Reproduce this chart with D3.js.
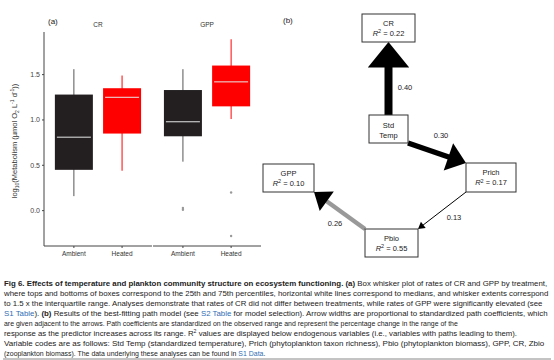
<!DOCTYPE html>
<html>
  <head>
    <meta charset="utf-8">
    <title>Fig 6. Temperature, plankton and ecosystem functioning</title>
    <script src="https://d3js.org/d3.v7.min.js"></script>
    <style type="text/css">
      body {
        margin: 0;
        background: #fff;
        font-family: "Liberation Sans", Arial, sans-serif;
      }
    </style>
  </head>
  <body>
    <svg width="554" height="360"></svg>
    <script>
      // ---- panel (a): box summaries [lower whisker, q1, median, q3, upper whisker]
      const groups = ['CR', 'GPP'];
      const treatments = ['Ambient', 'Heated'];
      const crAmbient = [0.16, 0.45, 0.81, 1.28, 1.56];
      const crHeated = [0.44, 0.85, 1.25, 1.35, 1.49];
      const gppAmbient = [0.54, 0.82, 0.98, 1.33, 1.56];
      const gppHeated = [1.01, 1.15, 1.42, 1.60, 1.89];
      const crAmbientOutliers = [];
      const crHeatedOutliers = [];
      const gppAmbientOutliers = [0.03, 0.01];
      const gppHeatedOutliers = [0.20, -0.28];
      const yTicks = [0, 0.5, 1.0, 1.5];

      // ---- panel (b): path model
      const nodeNames = ['CR', 'Std Temp', 'Prich', 'Pbio', 'GPP'];
      const nodeR2 = [0.22, null, 0.17, 0.55, 0.10];
      const pathFrom = ['Std Temp', 'Std Temp', 'Prich', 'Pbio'];
      const pathTo = ['CR', 'Prich', 'Pbio', 'GPP'];
      const pathCoef = [0.40, 0.30, 0.13, 0.26];

      const boxes = [
        { group: 'CR', trt: 'Ambient', s: crAmbient, out: crAmbientOutliers },
        { group: 'CR', trt: 'Heated', s: crHeated, out: crHeatedOutliers },
        { group: 'GPP', trt: 'Ambient', s: gppAmbient, out: gppAmbientOutliers },
        { group: 'GPP', trt: 'Heated', s: gppHeated, out: gppHeatedOutliers }
      ];

      const svg = d3.select('svg');
      const fill = { Ambient: '#231f20', Heated: '#ff0000' };
      const whisk = { Ambient: '#555', Heated: '#ff0000' };

      // scales
      const y = d3.scaleLinear().domain([-0.39, 1.97]).range([246, 32]);
      const xGroup = d3.scaleBand().domain(groups).range([44, 261]).paddingInner(0.01);
      const xTrt = d3.scalePoint().domain(treatments)
        .range([0, xGroup.bandwidth()]).padding(0.62);
      const boxW = 38;
      const cx = d => xGroup(d.group) + xTrt(d.trt);

      const a = svg.append('g');

      // left axis
      a.append('line')
        .attr('x1', 44).attr('x2', 44).attr('y1', 32).attr('y2', 246)
        .attr('stroke', '#444').attr('stroke-width', 1);
      const yt = a.selectAll('.yt').data(yTicks).enter().append('g')
        .attr('transform', d => `translate(44,${y(d)})`);
      yt.append('line').attr('x1', -2).attr('x2', 0).attr('stroke', '#444');
      yt.append('text')
        .attr('x', -4).attr('dy', '0.35em')
        .attr('text-anchor', 'end')
        .style('font-size', '7px').style('fill', '#444')
        .text(d => d.toFixed(1));

      // bottom axis, one segment per facet
      groups.forEach(gname => {
        const x0 = xGroup(gname);
        a.append('line')
          .attr('x1', x0).attr('x2', x0 + xGroup.bandwidth())
          .attr('y1', 246).attr('y2', 246)
          .attr('stroke', '#444');
        treatments.forEach(t => {
          a.append('line')
            .attr('x1', x0 + xTrt(t)).attr('x2', x0 + xTrt(t))
            .attr('y1', 246).attr('y2', 248)
            .attr('stroke', '#444');
          a.append('text')
            .attr('x', x0 + xTrt(t)).attr('y', 256)
            .attr('text-anchor', 'middle')
            .style('font-size', '6.5px').style('fill', '#333')
            .text(t);
        });
        a.append('text')
          .attr('x', x0 + xGroup.bandwidth() / 2).attr('y', 27)
          .attr('text-anchor', 'middle')
          .style('font-size', '6.5px').style('fill', '#333')
          .text(gname);
      });

      // boxes
      const bx = a.selectAll('.box').data(boxes).enter().append('g');
      bx.append('line')
        .attr('x1', cx).attr('x2', cx)
        .attr('y1', d => y(d.s[0])).attr('y2', d => y(d.s[4]))
        .attr('stroke', d => whisk[d.trt]).attr('stroke-width', 1);
      bx.append('rect')
        .attr('x', d => cx(d) - boxW / 2).attr('width', boxW)
        .attr('y', d => y(d.s[3])).attr('height', d => y(d.s[1]) - y(d.s[3]))
        .attr('fill', d => fill[d.trt]);
      bx.append('line')
        .attr('x1', d => cx(d) - boxW / 2 + 2).attr('x2', d => cx(d) + boxW / 2 - 2)
        .attr('y1', d => y(d.s[2])).attr('y2', d => y(d.s[2]))
        .attr('stroke', '#e8e8e8').attr('stroke-width', 1);
      bx.each(function (d) {
        d3.select(this).selectAll('circle').data(d.out).enter().append('circle')
          .attr('cx', cx(d)).attr('cy', v => y(v)).attr('r', 1.2)
          .attr('fill', '#999');
      });

      // y label
      const yl = a.append('text')
        .attr('transform', 'translate(17,141) rotate(-90)')
        .attr('text-anchor', 'middle')
        .style('font-size', '7.5px').style('fill', '#333');
      yl.append('tspan').text('log');
      yl.append('tspan').attr('dy', 2).style('font-size', '5px').text('10');
      yl.append('tspan').attr('dy', -2).text('(Metabolism (µmol O');
      yl.append('tspan').attr('dy', 2).style('font-size', '5px').text('2');
      yl.append('tspan').attr('dy', -2).text(' L');
      yl.append('tspan').attr('dy', -3).style('font-size', '5px').text('-1');
      yl.append('tspan').attr('dy', 3).text(' d');
      yl.append('tspan').attr('dy', -3).style('font-size', '5px').text('-1');
      yl.append('tspan').attr('dy', 3).text('))');

      svg.append('text').attr('x', 48).attr('y', 24)
        .style('font-size', '8px').style('fill', '#222').text('(a)');

      // ---- panel (b)
      const b = svg.append('g');
      b.append('text').attr('x', 283).attr('y', 23)
        .style('font-size', '8px').style('fill', '#222').text('(b)');

      const layout = {
        'CR': { x: 388.5, y: 28, w: 53, h: 28 },
        'Std Temp': { x: 388.5, y: 129, w: 39, h: 28 },
        'Prich': { x: 491, y: 177.5, w: 50, h: 29 },
        'Pbio': { x: 391.5, y: 243, w: 53, h: 28 },
        'GPP': { x: 288.5, y: 178, w: 51, h: 28 }
      };
      const anchors = [['t', 'b'], ['br', 'tl'], ['bl', 'tr'], ['tl', 'br']];
      const labelPos = [[405, 87], [441, 135], [454, 217], [335, 223]];
      const shaftColor = ['#000', '#000', '#000', '#999'];

      function anchor(name, where) {
        const n = layout[name];
        const px = where.includes('l') ? n.x - n.w / 2 : where.includes('r') ? n.x + n.w / 2 : n.x;
        const py = where.includes('t') ? n.y - n.h / 2 : n.y + n.h / 2;
        return [px, py];
      }

      const widthScale = d3.scaleLinear().domain([0.13, 0.40]).range([1, 8]);

      pathCoef.forEach((c, i) => {
        const p0 = anchor(pathFrom[i], anchors[i][0]);
        const p1 = anchor(pathTo[i], anchors[i][1]);
        const w = widthScale(c);
        const hl = 4 + 2.7 * w, hw = 1.5 + 2.4 * w;
        const dx = p1[0] - p0[0], dy = p1[1] - p0[1];
        const len = Math.hypot(dx, dy);
        const ux = dx / len, uy = dy / len;
        const bxp = p1[0] - ux * hl, byp = p1[1] - uy * hl;
        b.append('line')
          .attr('x1', p0[0]).attr('y1', p0[1])
          .attr('x2', bxp + ux).attr('y2', byp + uy)
          .attr('stroke', shaftColor[i]).attr('stroke-width', w);
        b.append('path')
          .attr('d', `M${p1[0]},${p1[1]}L${bxp - uy * hw},${byp + ux * hw}L${bxp + uy * hw},${byp - ux * hw}Z`)
          .attr('fill', '#000');
        b.append('text')
          .attr('x', labelPos[i][0]).attr('y', labelPos[i][1]).attr('dy', '0.35em')
          .attr('text-anchor', 'middle')
          .style('font-size', '7.5px').style('fill', '#222')
          .text(c.toFixed(2));
      });

      nodeNames.forEach((name, i) => {
        const n = layout[name];
        b.append('rect')
          .attr('x', n.x - n.w / 2).attr('y', n.y - n.h / 2)
          .attr('width', n.w).attr('height', n.h)
          .attr('fill', '#fff').attr('stroke', '#333').attr('stroke-width', 1);
        if (nodeR2[i] === null) {
          name.split(' ').forEach((word, k) => {
            b.append('text')
              .attr('x', n.x).attr('y', n.y - 4 + k * 10).attr('dy', '0.35em')
              .attr('text-anchor', 'middle')
              .style('font-size', '7.5px').style('fill', '#222')
              .text(word);
          });
        } else {
          b.append('text')
            .attr('x', n.x).attr('y', n.y - 5).attr('dy', '0.35em')
            .attr('text-anchor', 'middle')
            .style('font-size', '7.5px').style('fill', '#222')
            .text(name);
          const t = b.append('text')
            .attr('x', n.x).attr('y', n.y + 5).attr('dy', '0.35em')
            .attr('text-anchor', 'middle')
            .style('font-size', '7.5px').style('fill', '#222');
          t.append('tspan').style('font-style', 'italic').text('R');
          t.append('tspan').attr('dy', -2.5).style('font-size', '5.5px').text('2');
          t.append('tspan').attr('dy', 2.5).text(' = ' + nodeR2[i].toFixed(2));
        }
      });

      // ---- caption
      const link = '#2f6db5';
      const caption = [
        [['b', 'Fig 6. Effects of temperature and plankton community structure on ecosystem functioning.'], ['n', ' '], ['b', '(a)'], ['n', ' Box whisker plot of rates of CR and GPP by treatment,']],
        [['n', 'where tops and bottoms of boxes correspond to the 25th and 75th percentiles, horizontal white lines correspond to medians, and whisker extents correspond']],
        [['n', 'to 1.5 x the interquartile range. Analyses demonstrate that rates of CR did not differ between treatments, while rates of GPP were significantly elevated (see']],
        [['l', 'S1 Table'], ['n', '). '], ['b', '(b)'], ['n', ' Results of the best-fitting path model (see '], ['l', 'S2 Table'], ['n', ' for model selection). Arrow widths are proportional to standardized path coefficients, which']],
        [['n', 'are given adjacent to the arrows. Path coefficients are standardized on the observed range and represent the percentage change in the range of the']],
        [['n', 'response as the predictor increases across its range. R'], ['s', '2'], ['u', ' values are displayed below endogenous variables (i.e., variables with paths leading to them).']],
        [['n', 'Variable codes are as follows: Std Temp (standardized temperature), Prich (phytoplankton taxon richness), Pbio (phytoplankton biomass), GPP, CR, Zbio']],
        [['n', '(zooplankton biomass). The data underlying these analyses can be found in '], ['l', 'S1 Data'], ['n', '.']]
      ];
      const lineLen = [544, 545, 539, 544, 455, 515, 543, 262];
      const baseSize = 7.3;

      caption.forEach((parts, i) => {
        const t = svg.append('text')
          .attr('x', 4).attr('y', 285.5 + i * 10)
          .style('font-size', baseSize + 'px').style('fill', '#222');
        parts.forEach(([k, s]) => {
          const sp = t.append('tspan').text(s);
          if (k === 'b') sp.style('font-weight', 'bold');
          if (k === 'l') sp.style('fill', link);
          if (k === 's') sp.attr('dy', -2.5).attr('class', 'sup');
          if (k === 'u') sp.attr('dy', 2.5);
        });
        // fit each line to the width it takes in the figure
        const natural = t.node().getComputedTextLength();
        const size = Math.min(8, baseSize * lineLen[i] / natural);
        t.style('font-size', size + 'px');
        t.selectAll('.sup').style('font-size', (size * 0.68) + 'px');
      });

      svg.append('line')
        .attr('x1', 3).attr('x2', 551).attr('y1', 359).attr('y2', 359)
        .attr('stroke', '#888').attr('stroke-width', 1);
    </script>
  </body>
</html>
